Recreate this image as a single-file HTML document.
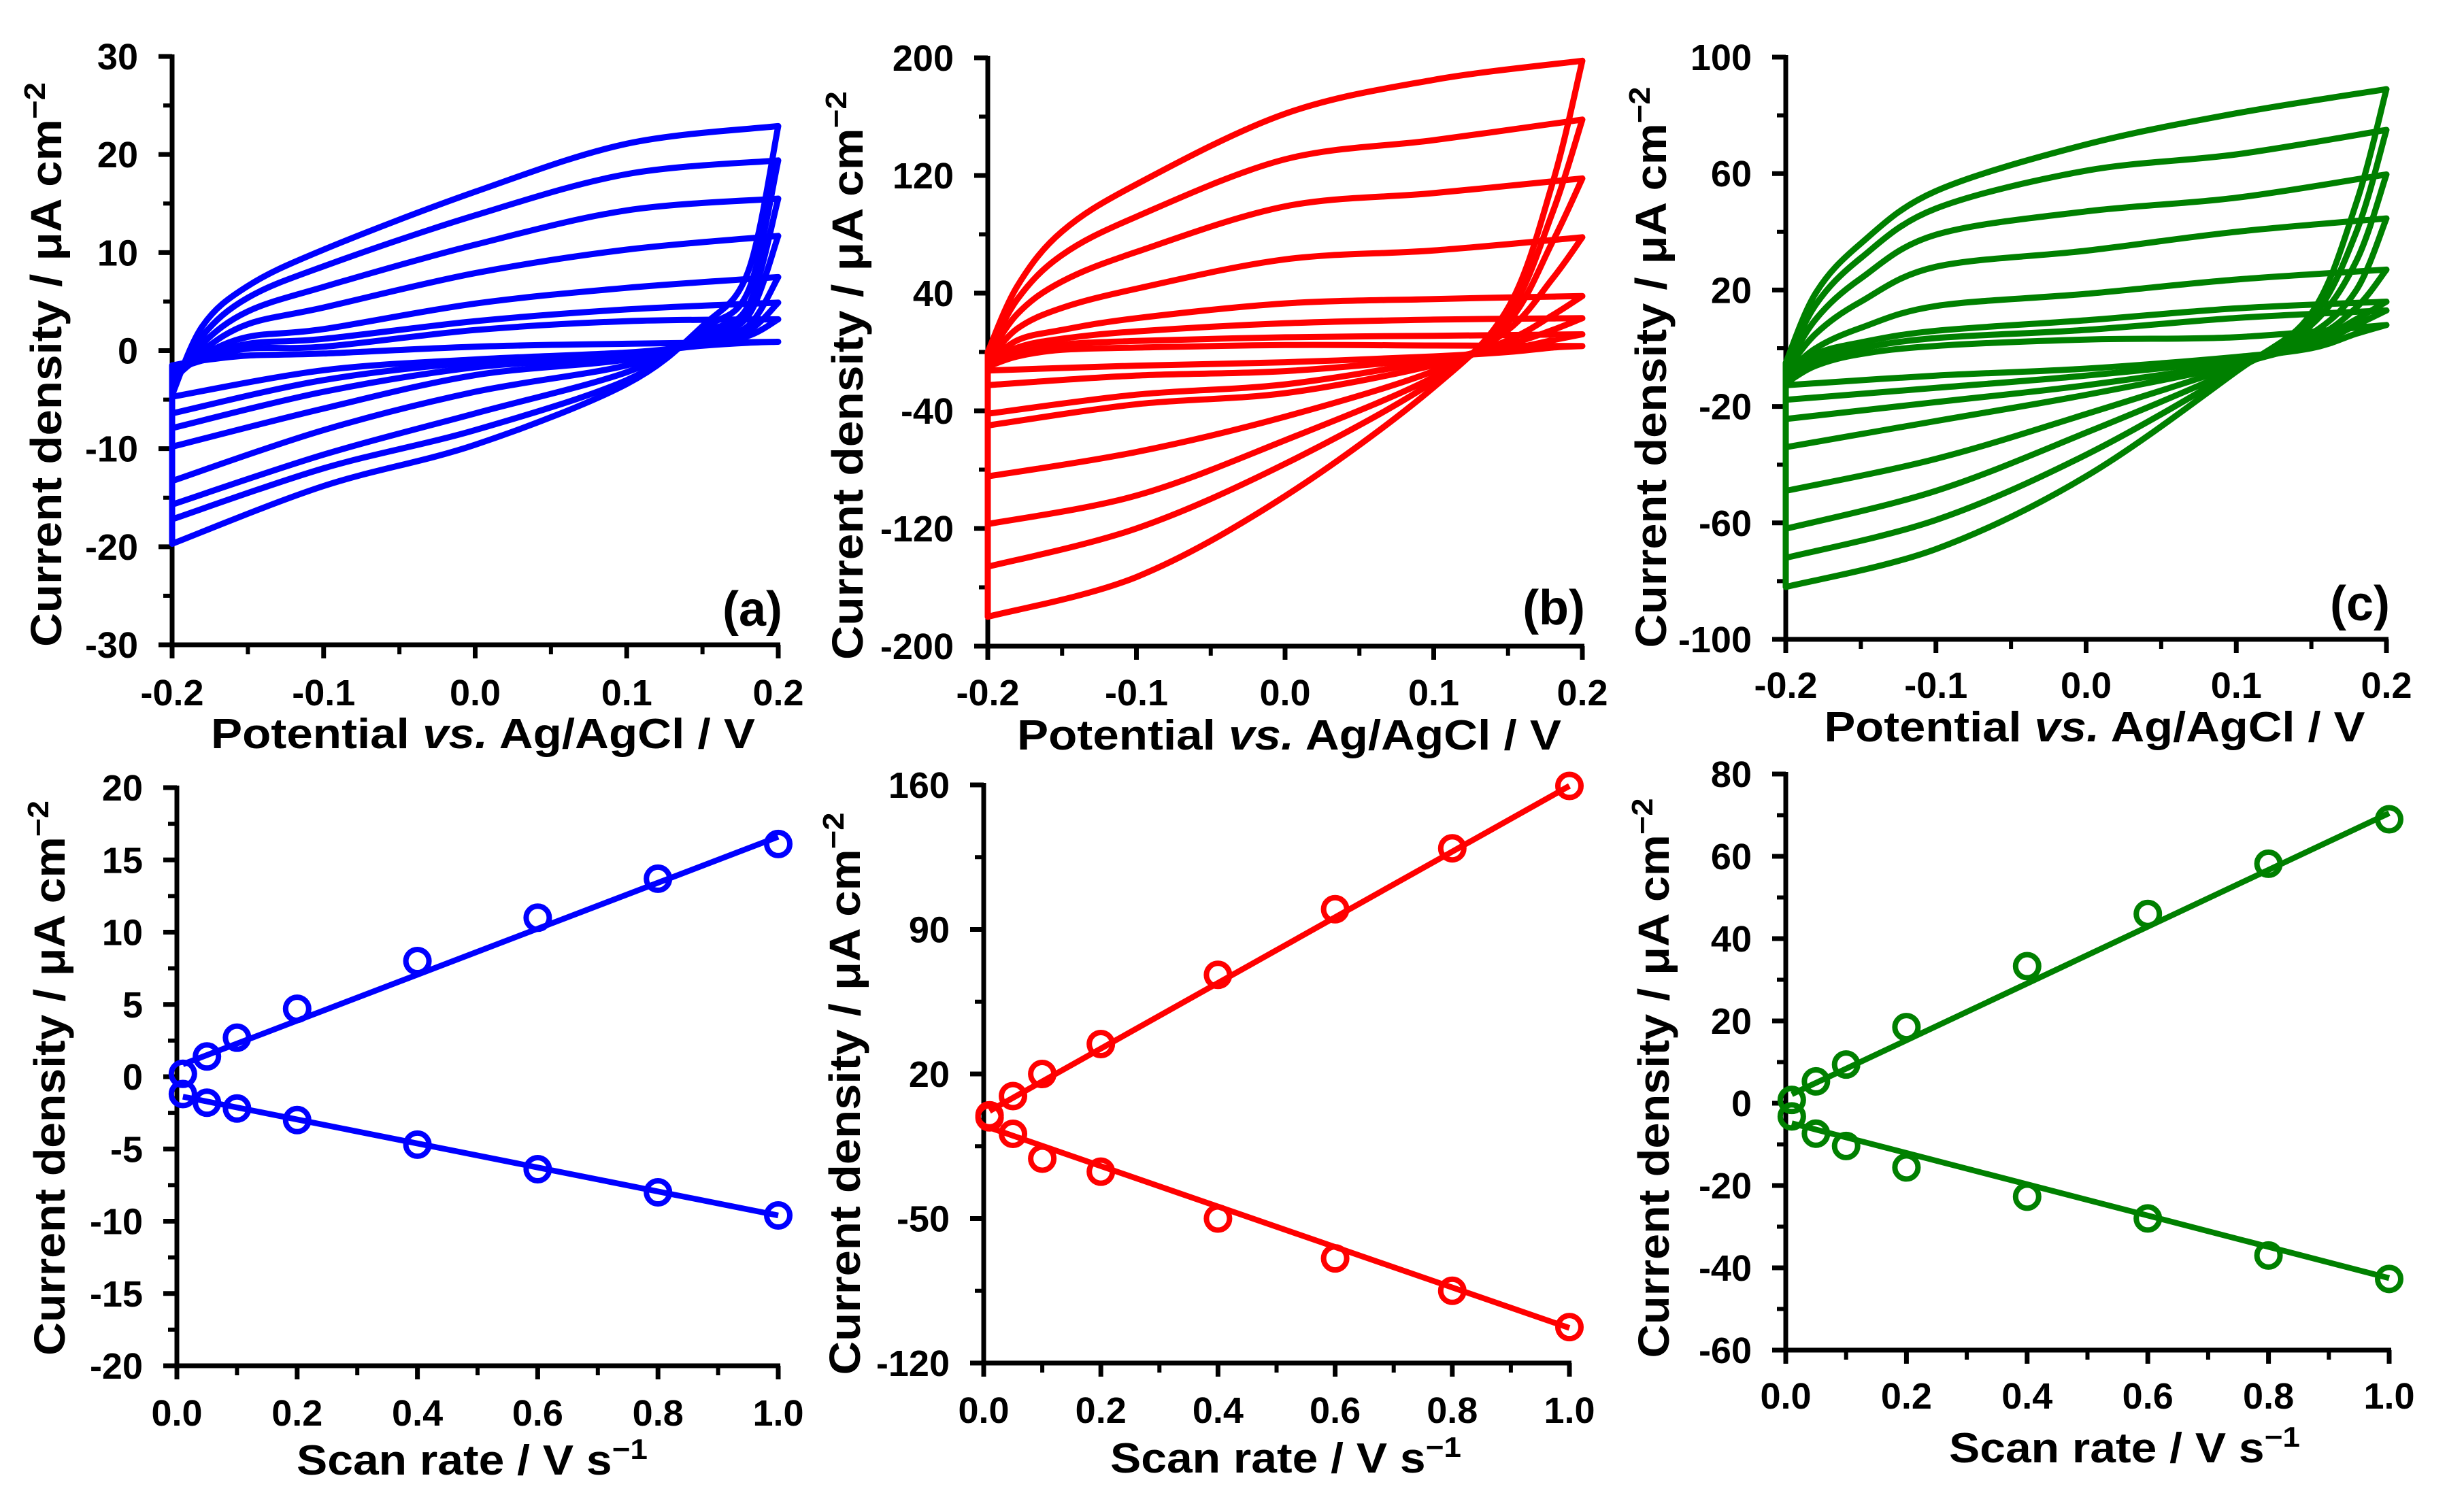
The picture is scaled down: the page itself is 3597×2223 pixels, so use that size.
<!DOCTYPE html>
<html><head><meta charset="utf-8"><style>
html,body{margin:0;padding:0;background:#fff}
svg text{font-family:"Liberation Sans",Arial,sans-serif;font-weight:bold;fill:#000}
</style></head><body>
<svg id="fig" xmlns="http://www.w3.org/2000/svg" width="3597" height="2218" viewBox="0 0 3597 2218"></svg>
<script>
// ---------- data ----------
const scanRates = [0.01,0.05,0.1,0.2,0.4,0.6,0.8,1.0];
const cvUpE = [-0.2,-0.18,-0.15,-0.1,0,0.1,0.2];
const cvDownE = [0.2,0.18,0.15,0.1,0,-0.1,-0.2];

const cvA_up = [
 [-1.5,-1,-0.5,-0.3,0.4,0.7,0.9],
 [-2,-1,0.2,0.4,2.1,3,3.2],
 [-2.5,-0.8,0.7,1.2,3,4.2,4.9],
 [-3,-0.5,1.4,2.2,4.8,6.4,7.5],
 [-3,0,2.7,4.4,7.9,10.3,11.7],
 [-3.5,0.7,4,6.5,10.8,14.3,15.5],
 [-4,1.5,5.4,8.6,13.8,18,19.4],
 [-4.5,2.5,6.6,10.3,16.2,21.1,22.9]];
const cvA_down = [
 [0.9,0.8,0.5,-0.2,-0.9,-2,-4.7],
 [3.2,1.5,0.8,-0.4,-1.2,-3,-6.4],
 [4.9,2,1,-0.6,-1.7,-4.2,-7.9],
 [7.5,2.5,1.2,-0.9,-2.5,-5.9,-9.8],
 [11.7,3.5,1.5,-1.5,-4.2,-8.1,-13.3],
 [15.5,4.5,1.8,-2.2,-6.4,-10.6,-15.7],
 [19.4,6,2.2,-3,-8.1,-12,-17.2],
 [22.9,8,2.5,-3.4,-9.6,-13.8,-19.7]];

const cvB_up = [
 [-10,-3,1.5,3,4.7,4.4,4],
 [-10,-1,5,7.5,10,11,12],
 [-9,3,9,14,19.5,22,23],
 [-8,8,15,23,33,36,38],
 [-6,16,30,43,63,69,78],
 [-4,26,48,68,99,108,118],
 [-2,36,66,92,131,144,158],
 [0,45,82,114,162,185,198]];
const cvB_down = [
 [4,3,0,-3,-7,-9.3,-12.6],
 [12,8,2,-4.5,-13,-16,-22.5],
 [23,15,5,-6,-22,-29,-42],
 [38,25,8,-9,-28,-35.5,-50],
 [78,50,15,-13,-44,-68,-84.6],
 [118,75,20,-17,-60,-97.6,-117],
 [158,95,25,-20,-76,-120,-146],
 [198,115,30,-24,-98,-153,-180]];

const cvC_up = [
 [-12,-6,-2,0.8,3,3.8,8],
 [-11,-4,0,3.5,6.3,10.4,13],
 [-10,-2,2,6,9.6,13.7,16],
 [-9,0,7,14.5,18.7,23.6,27],
 [-8,5,16,28,33.5,40,44.6],
 [-7,10,24,39,47,51.7,59.7],
 [-6,15,31,48,61,66.6,75],
 [-5,19,36,54,70,80.7,89]];
const cvC_down = [
 [8,5,0,-3,-7,-9.4,-12.7],
 [13,8,1,-4,-9.4,-13.6,-17.7],
 [16,10,2,-5,-12.7,-18.5,-24.3],
 [27,14,3,-5.5,-16,-25,-34],
 [44.6,20,5,-6,-22.6,-38,-49],
 [59.7,30,8,-7,-29,-49,-62],
 [75,40,10,-7.5,-36.6,-59,-72],
 [89,50,12,-8,-44,-69,-82]];

const rateA_anodic = [0.2,1.4,2.7,4.7,8,11,13.7,16.1];
const rateA_cathodic = [-1.2,-1.8,-2.2,-3,-4.7,-6.4,-8,-9.6];
const rateA_fitA = [0.7,15.9];   // intercept, slope
const rateA_fitC = [-1.3,-8.3];
const rateB_anodic = [0,9.3,20,34.5,68,99.8,129.3,159.5];
const rateB_cathodic = [-1,-9,-21,-27.3,-50,-69.3,-85,-102.6];
const rateB_fitA = [0.5,159];
const rateB_fitC = [-5,-98];
const rateC_anodic = [0.8,5.3,9.4,18.5,33.3,46,58.2,69];
const rateC_cathodic = [-3.2,-7.4,-10.4,-15.6,-22.7,-28,-37,-42.7];
const rateC_fitA = [1.5,69];
const rateC_fitC = [-4.5,-38];

const cvXTicks = [-0.2,-0.1,0.0,0.1,0.2];
const cvXTickLabels = ["-0.2","-0.1","0.0","0.1","0.2"];
const rateXTicks = [0,0.2,0.4,0.6,0.8,1.0];
const rateXTickLabels = ["0.0","0.2","0.4","0.6","0.8","1.0"];
const yTicksA = [-30,-20,-10,0,10,20,30];
const yTicksB = [-200,-120,-40,40,120,200];
const yTicksC = [-100,-60,-20,20,60,100];
const yTicksD = [-20,-15,-10,-5,0,5,10,15,20];
const yTicksE = [-120,-50,20,90,160];
const yTicksF = [-60,-40,-20,0,20,40,60,80];

// ---------- drawing ----------
const NS = "http://www.w3.org/2000/svg";
const svg = document.getElementById('fig');
function mk(tag, attrs, parent){
  const e = document.createElementNS(NS, tag);
  for (const k in attrs) e.setAttribute(k, attrs[k]);
  (parent||svg).appendChild(e);
  return e;
}
function crPath(pts){
  let d = "M"+pts[0][0].toFixed(1)+","+pts[0][1].toFixed(1);
  for (let i=0;i<pts.length-1;i++){
    const p0=pts[Math.max(0,i-1)], p1=pts[i], p2=pts[i+1], p3=pts[Math.min(pts.length-1,i+2)];
    const c1=[p1[0]+(p2[0]-p0[0])/6, p1[1]+(p2[1]-p0[1])/6];
    const c2=[p2[0]-(p3[0]-p1[0])/6, p2[1]-(p3[1]-p1[1])/6];
    d += " C"+c1[0].toFixed(1)+","+c1[1].toFixed(1)+" "+c2[0].toFixed(1)+","+c2[1].toFixed(1)+" "+p2[0].toFixed(1)+","+p2[1].toFixed(1);
  }
  return d;
}

function axes(cfg){
  const g = mk('g', {});
  
  
  const X = v => cfg.x0 + (v-cfg.xmin)/(cfg.xmax-cfg.xmin)*(cfg.x1-cfg.x0);
  const Y = v => cfg.y0 - (v-cfg.ymin)/(cfg.ymax-cfg.ymin)*(cfg.y0-cfg.y1);
  const ax = mk('path', {d:`M${cfg.x0},${cfg.y1-3} L${cfg.x0},${cfg.y0} L${cfg.x1+3},${cfg.y0}`, fill:'none', stroke:'#000', 'stroke-width':7}, g);
  
  
  const yt = cfg.yTicks;
  const ystep = yt[1]-yt[0];
  yt.forEach((v,i)=>{
    mk('line', {x1:cfg.x0-20, x2:cfg.x0, y1:Y(v), y2:Y(v), stroke:'#000','stroke-width':7}, g);
    if (i<yt.length-1){ const m=v+ystep/2; mk('line', {x1:cfg.x0-13, x2:cfg.x0, y1:Y(m), y2:Y(m), stroke:'#000','stroke-width':6}, g); }
    const t = mk('text', {x:cfg.x0-50, y:Y(v)+19, 'text-anchor':'end', 'font-size':54}, g);
    t.textContent = String(v);
    
    
  });
  const xt = cfg.xTicks;
  const xstep = xt[1]-xt[0];
  xt.forEach((v,i)=>{
    mk('line', {x1:X(v), x2:X(v), y1:cfg.y0, y2:cfg.y0+20, stroke:'#000','stroke-width':7}, g);
    if (i<xt.length-1){ const m=v+xstep/2; mk('line', {x1:X(m), x2:X(m), y1:cfg.y0, y2:cfg.y0+14, stroke:'#000','stroke-width':6}, g); }
    const t = mk('text', {x:X(v), y:cfg.xLabelY, 'text-anchor':'middle', 'font-size':54}, g);
    t.textContent = cfg.xLabels[i];
    
    
  });
  const xtEl = mk('text', {x:cfg.xtx, y:cfg.xty, 'text-anchor':'middle', 'font-size':62, textLength:cfg.xtlen, lengthAdjust:'spacingAndGlyphs'}, g);
  
  
  if (cfg.cv){
    xtEl.innerHTML = 'Potential <tspan font-style="italic">vs.</tspan> Ag/AgCl / V';
  } else {
    xtEl.innerHTML = 'Scan rate / V s<tspan baseline-shift="super" font-size="42">−1</tspan>';
  }
  const ytEl = mk('text', {x:0, y:0, 'text-anchor':'middle', 'font-size':64, textLength:cfg.ytlen, lengthAdjust:'spacingAndGlyphs', transform:`translate(${cfg.ytx},${cfg.yty}) rotate(-90)`}, g);
  
  
  ytEl.innerHTML = 'Current density / μA cm<tspan baseline-shift="super" font-size="44">−2</tspan>';
  if (cfg.tag){
    const tg = mk('text', {x:cfg.tagX, y:cfg.tagY, 'text-anchor':'end', 'font-size':72}, g);
    tg.textContent = cfg.tag;
    
    
  }
  return {g, X, Y};
}

function cvPanel(cfg, ups, downs, color){
  const {g, X, Y} = axes(cfg);
  ups.forEach((up, k)=>{
    const down = downs[k];
    const upPts = cvUpE.map((e,i)=>[X(e), Y(up[i])]);
    const dnPts = cvDownE.map((e,i)=>[X(e), Y(down[i])]);
    const d = crPath(upPts) + " " + crPath(dnPts).replace(/^M/, "L") + " Z";
    const p = mk('path', {d, fill:'none', stroke:color, 'stroke-width':9, 'stroke-linejoin':'round'}, g);
    
    
  });
}

function ratePanel(cfg, an, ca, fitA, fitC, color){
  const {g, X, Y} = axes(cfg);
  [[fitA,'fit-line-anodic'],[fitC,'fit-line-cathodic']].forEach(([f,nm])=>{
    const l = mk('line', {x1:X(scanRates[0]), y1:Y(f[0]+f[1]*scanRates[0]), x2:X(1), y2:Y(f[0]+f[1]*1), stroke:color, 'stroke-width':8.5}, g);
    
    
  });
  [[an,'point-anodic'],[ca,'point-cathodic']].forEach(([arr,nm])=>{
    arr.forEach((v,i)=>{
      const c = mk('circle', {cx:X(scanRates[i]), cy:Y(v), r:17, fill:'none', stroke:color, 'stroke-width':8}, g);
      
      
    });
  });
}

cvPanel({name:'panel-a', cv:true, x0:253, x1:1144, y0:948, y1:83, xmin:-0.2, xmax:0.2, ymin:-30, ymax:30,
  yTicks:yTicksA, xTicks:cvXTicks, xLabels:cvXTickLabels, xLabelY:1037,
  xtx:710, xty:1100, xtlen:800, ytx:90, yty:536, ytlen:830, tag:'(a)', tagX:1150, tagY:920}, cvA_up, cvA_down, '#0000ff');
cvPanel({name:'panel-b', cv:true, x0:1452, x1:2326, y0:950, y1:85, xmin:-0.2, xmax:0.2, ymin:-200, ymax:200,
  yTicks:yTicksB, xTicks:cvXTicks, xLabels:cvXTickLabels, xLabelY:1037,
  xtx:1895, xty:1102, xtlen:800, ytx:1268, yty:552, ytlen:836, tag:'(b)', tagX:2330, tagY:918}, cvB_up, cvB_down, '#ff0000');
cvPanel({name:'panel-c', cv:true, x0:2625, x1:3508, y0:940, y1:84, xmin:-0.2, xmax:0.2, ymin:-100, ymax:100,
  yTicks:yTicksC, xTicks:cvXTicks, xLabels:cvXTickLabels, xLabelY:1026,
  xtx:3079, xty:1090, xtlen:795, ytx:2449, yty:540, ytlen:825, tag:'(c)', tagX:3513, tagY:912}, cvC_up, cvC_down, '#008000');

ratePanel({name:'panel-d', x0:260, x1:1144, y0:2008, y1:1158, xmin:0, xmax:1, ymin:-20, ymax:20,
  yTicks:yTicksD, xTicks:rateXTicks, xLabels:rateXTickLabels, xLabelY:2096,
  xtx:694, xty:2168, xtlen:516, ytx:95, yty:1585, ytlen:816}, rateA_anodic, rateA_cathodic, rateA_fitA, rateA_fitC, '#0000ff');
ratePanel({name:'panel-e', x0:1446, x1:2307, y0:2004, y1:1154, xmin:0, xmax:1, ymin:-120, ymax:160,
  yTicks:yTicksE, xTicks:rateXTicks, xLabels:rateXTickLabels, xLabelY:2092,
  xtx:1890, xty:2165, xtlen:516, ytx:1264, yty:1608, ytlen:827}, rateB_anodic, rateB_cathodic, rateB_fitA, rateB_fitC, '#ff0000');
ratePanel({name:'panel-f', x0:2625, x1:3512, y0:1985, y1:1138, xmin:0, xmax:1, ymin:-60, ymax:80,
  yTicks:yTicksF, xTicks:rateXTicks, xLabels:rateXTickLabels, xLabelY:2071,
  xtx:3123, xty:2150, xtlen:516, ytx:2453, yty:1585, ytlen:823}, rateC_anodic, rateC_cathodic, rateC_fitA, rateC_fitC, '#008000');
</script>
</body></html>
